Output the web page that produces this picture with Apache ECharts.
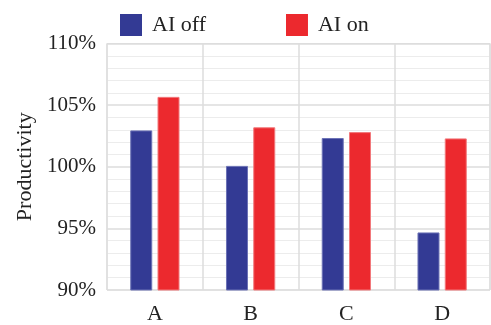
<!DOCTYPE html>
<html>
<head>
<meta charset="utf-8">
<script src="https://cdn.jsdelivr.net/npm/echarts@6/dist/echarts.min.js"></script>
<style>html,body{margin:0;padding:0;background:#fff}#c{width:491px;height:325px}</style>
</head>
<body>
<div id="c"></div>
<script>
const categories = ['A', 'B', 'C', 'D'];
const aiOff = [102.95, 100.07, 102.33, 94.67];
const aiOn = [105.67, 103.2, 102.81, 102.3];
const seriesNames = ['AI off', 'AI on'];
const yTicks = [90, 95, 100, 105, 110];

const font = 'Liberation Serif';
const chart = echarts.init(document.getElementById('c'), null, {renderer: 'canvas'});
chart.setOption({
  animation: false,
  backgroundColor: '#fff',
  legend: {
    top: 9, left: 115,
    itemWidth: 22, itemHeight: 22, itemGap: 80,
    icon: 'rect',
    itemStyle: {borderWidth: 0},
    textStyle: {fontFamily: font, fontSize: 22, color: '#222', padding: [0, 0, 0, 5]},
    data: seriesNames
  },
  grid: {left: 107, right: 1, top: 43.5, bottom: 33, show: true, borderColor: '#ddd', borderWidth: 1},
  xAxis: {
    type: 'category', data: categories,
    axisLine: {show: false}, axisTick: {show: false},
    axisLabel: {fontFamily: font, fontSize: 22, color: '#222', margin: 13},
    splitLine: {show: true, lineStyle: {color: '#ddd', width: 1.5}}
  },
  yAxis: {
    type: 'value', min: 90, max: 110, interval: 5,
    name: 'Productivity', nameLocation: 'middle', nameGap: 70, nameRotate: 90,
    nameTextStyle: {fontFamily: font, fontSize: 22, color: '#222'},
    axisLine: {show: false}, axisTick: {show: false},
    axisLabel: {fontFamily: font, fontSize: 21, color: '#222', margin: 11,
      formatter: v => yTicks.includes(v) ? v + '%' : ''},
    splitLine: {show: true, lineStyle: {color: '#ddd', width: 1.5}},
    minorTick: {show: false, splitNumber: 5},
    minorSplitLine: {show: true, lineStyle: {color: '#ececec', width: 1}}
  },
  series: [
    {name: seriesNames[0], type: 'bar', data: aiOff, barWidth: 22, barGap: '24%',
      itemStyle: {color: '#333a94', borderColor: '#6c72b6', borderWidth: 1}},
    {name: seriesNames[1], type: 'bar', data: aiOn, barWidth: 22,
      itemStyle: {color: '#ec292e', borderColor: '#f2787b', borderWidth: 1}}
  ]
});
</script>
</body>
</html>
